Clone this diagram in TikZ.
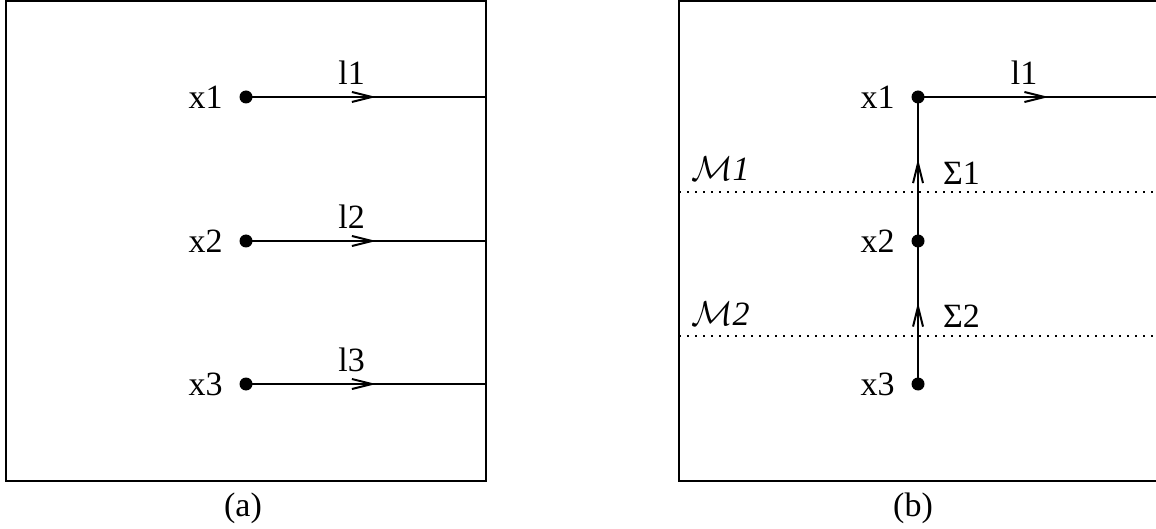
\documentclass[tikz,border=0pt]{standalone}
\usepackage{fontspec}
\setmainfont{Liberation Serif}
\usetikzlibrary{arrows.meta,decorations.markings}

\tikzset{
  vtx/.style={circle,fill,inner sep=0pt,minimum size=6.5pt},
  lbl/.style={font=\fontsize{17}{20}\selectfont,inner sep=1pt},
  midarrow/.style={postaction={decorate},decoration={markings,
    mark=at position 0.5 with {\arrow[xshift=5pt]{Straight Barb[length=10pt,width=5pt]}}}},
  level/.style={line width=1pt,dash pattern=on 1pt off 3pt}
}

\begin{document}
\begin{tikzpicture}[x=0.5pt,y=-0.5pt,line width=1pt]
   \useasboundingbox (0,0) rectangle (1156,529);
   \clip (0,0) rectangle (1156,529);
   % (a)
   \draw (6,1) rectangle (486,481);
   \foreach \i/\y in {1/97,2/241,3/384}{
     \node[vtx,label={[lbl,label distance=6.5pt]left:x\i}] (a\i) at (246,\y) {};
     \coordinate (ae\i) at (486,\y);
     \draw[midarrow] (a\i.center) -- node[lbl,above=4.5pt,pos=.44] {l\i} (ae\i);
   }
   \node[lbl,anchor=base] (capa) at (243,516) {(a)};
   % (b)
   \draw (679,1) rectangle (1159,481);
   \node[vtx,label={[lbl,label distance=6.5pt]left:x1}] (b1) at (918,97) {};
   \node[vtx,label={[lbl,label distance=6.5pt]left:x2}] (b2) at (918,241) {};
   \node[vtx,label={[lbl,label distance=6.5pt]left:x3}] (b3) at (918,384) {};
   \coordinate (be1) at (1159,97);
   \draw[midarrow] (b1.center) -- node[lbl,above=4.5pt,pos=.44] {l1} (be1);
   \draw[midarrow] (b2.center) -- node[lbl,right=11pt,yshift=-2pt] {Σ1} (b1.center);
   \draw[midarrow] (b3.center) -- node[lbl,right=11pt,yshift=-2pt] {Σ2} (b2.center);
   \coordinate (m1l) at (679,192);
   \coordinate (m1r) at (1159,192);
   \coordinate (m2l) at (679,336);
   \coordinate (m2r) at (1159,336);
   \draw[level] (m1l) -- (m1r);
   \draw[level] (m2l) -- (m2r);
   \node[lbl,anchor=base west] (mm1) at (688,181) {$\mathcal{M}$\textit{1}};
   \node[lbl,anchor=base west] (mm2) at (688,325) {$\mathcal{M}$\textit{2}};
   \node[lbl,anchor=base] (capb) at (913,516) {(b)};
\end{tikzpicture}
\end{document}
